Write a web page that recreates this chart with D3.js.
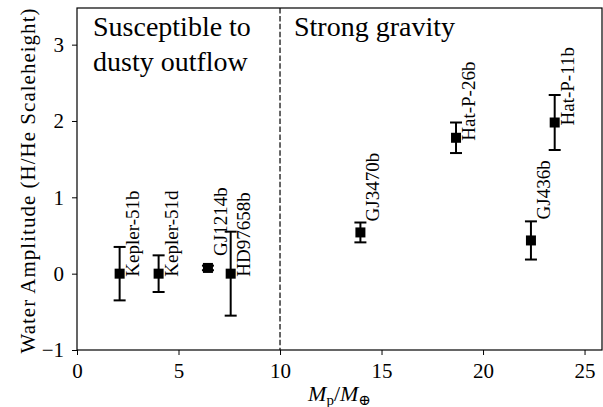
<!DOCTYPE html>
<html>
<head>
<meta charset="utf-8">
<script src="https://d3js.org/d3.v7.min.js"></script>
<style>
  body { margin: 0; background: #fff; }
</style>
</head>
<body>
<div id="chart"></div>
<script>
// planet data
const planets = ["Kepler-51b", "Kepler-51d", "GJ1214b", "HD97658b", "GJ3470b", "Hat-P-26b", "GJ436b", "Hat-P-11b"];
const mass = [2.1, 4.02, 6.45, 7.57, 13.96, 18.67, 22.36, 23.53];
const amplitude = [0.0, 0.0, 0.075, 0.0, 0.54, 1.78, 0.435, 1.98];
const errUp = [0.35, 0.24, 0.03, 0.55, 0.13, 0.2, 0.25, 0.36];
const errDown = [0.35, 0.24, 0.03, 0.55, 0.13, 0.2, 0.25, 0.36];
const xTicks = [0, 5, 10, 15, 20, 25];
const yTicks = [-1, 0, 1, 2, 3];
const divider = 10;

// label shifts in pixels (layout only)
const labelShift = [0, 0, -15, 0, -14, 0, -24, 0];

const FONT = "'Liberation Serif', 'Times New Roman', 'DejaVu Serif', serif";
const W = 603, H = 407;
const margin = {top: 8, right: 1, bottom: 57, left: 77};
const width = W - margin.left - margin.right;
const height = H - margin.top - margin.bottom;

const svg = d3.select("#chart").append("svg")
    .attr("width", W)
    .attr("height", H)
    .attr("font-family", FONT);

const g = svg.append("g")
    .attr("transform", "translate(" + margin.left + "," + margin.top + ")");

const x = d3.scaleLinear().domain([0, 25.86]).range([0, width]);
const y = d3.scaleLinear().domain([-1, 3.48]).range([height, 0]);

// axes
const xAxis = g.append("g")
    .attr("transform", "translate(0," + height + ")")
    .call(d3.axisBottom(x).tickValues(xTicks).tickSize(5).tickPadding(8).tickFormat(d3.format("d")));
const yAxis = g.append("g")
    .call(d3.axisLeft(y).tickValues(yTicks).tickSize(5).tickPadding(8)
      .tickFormat(d => d < 0 ? "\u2212" + Math.abs(d) : d));

[xAxis, yAxis].forEach(a => {
  a.attr("font-family", FONT).attr("font-size", 21);
  a.select(".domain").remove();
  a.selectAll("line").attr("stroke", "#000").attr("stroke-width", 1);
  a.selectAll("text").attr("fill", "#000");
});

// frame
g.append("rect")
    .attr("width", width)
    .attr("height", height)
    .attr("fill", "none")
    .attr("stroke", "#000")
    .attr("stroke-width", 1.2);

// dashed divider
g.append("line")
    .attr("x1", x(divider)).attr("x2", x(divider))
    .attr("y1", 0).attr("y2", height)
    .attr("stroke", "#000")
    .attr("stroke-width", 1.2)
    .attr("stroke-dasharray", "5.5,2.4");

// region captions
const cap = g.append("text").attr("font-size", 28).attr("fill", "#000");
cap.append("tspan").attr("x", 16).attr("y", 28).text("Susceptible to");
cap.append("tspan").attr("x", 16).attr("y", 63).text("dusty outflow");
g.append("text")
    .attr("x", x(divider) + 14).attr("y", 28)
    .attr("font-size", 28)
    .text("Strong gravity");

// error bars
const pts = planets.map((p, i) => ({name: p, m: mass[i], a: amplitude[i], up: errUp[i], dn: errDown[i], shift: labelShift[i]}));

const eb = g.selectAll(".eb").data(pts).join("g").attr("class", "eb");
eb.append("line")
    .attr("x1", d => x(d.m)).attr("x2", d => x(d.m))
    .attr("y1", d => y(d.a + d.up)).attr("y2", d => y(d.a - d.dn))
    .attr("stroke", "#000").attr("stroke-width", 2);
eb.append("line")
    .attr("x1", d => x(d.m) - 6).attr("x2", d => x(d.m) + 6)
    .attr("y1", d => y(d.a + d.up)).attr("y2", d => y(d.a + d.up))
    .attr("stroke", "#000").attr("stroke-width", 2);
eb.append("line")
    .attr("x1", d => x(d.m) - 6).attr("x2", d => x(d.m) + 6)
    .attr("y1", d => y(d.a - d.dn)).attr("y2", d => y(d.a - d.dn))
    .attr("stroke", "#000").attr("stroke-width", 2);

// square markers
g.selectAll(".pt").data(pts).join("rect")
    .attr("class", "pt")
    .attr("x", d => x(d.m) - 5)
    .attr("y", d => y(d.a) - 5)
    .attr("width", 10).attr("height", 10)
    .attr("fill", "#000");

// rotated labels
g.selectAll(".lab").data(pts).join("text")
    .attr("class", "lab")
    .attr("transform", d => "translate(" + (x(d.m) + 19) + "," + (y(d.a) + 3 + d.shift) + ") rotate(-90)")
    .attr("font-size", 19)
    .attr("fill", "#000")
    .text(d => d.name);

// axis titles
svg.append("text")
    .attr("transform", "translate(" + 35 + "," + (margin.top + height / 2 + 2) + ") rotate(-90)")
    .attr("text-anchor", "middle")
    .attr("font-size", 21)
    .attr("textLength", 345)
    .attr("lengthAdjust", "spacing")
    .text("Water Amplitude (H/He Scaleheight)");

const xl = svg.append("text")
    .attr("x", margin.left + width / 2)
    .attr("y", 401)
    .attr("text-anchor", "middle")
    .attr("font-size", 22);
xl.append("tspan").attr("font-style", "italic").text("M");
xl.append("tspan").attr("font-size", 15).attr("dy", 4).text("p");
xl.append("tspan").attr("dy", -4).text("/");
xl.append("tspan").attr("font-style", "italic").text("M");
xl.append("tspan").attr("font-size", 15).attr("dy", 4).text("\u2295");
</script>
</body>
</html>
